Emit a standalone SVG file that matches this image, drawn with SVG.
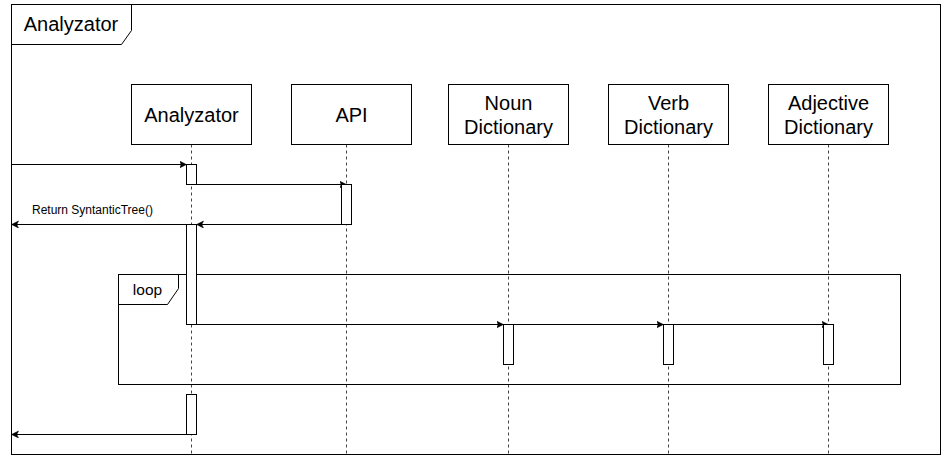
<svg xmlns="http://www.w3.org/2000/svg" width="946" height="460" viewBox="0 0 946 460">
  <style>
    .frame { fill: none; stroke: #000; stroke-width: 1; }
    .box { fill: #fff; stroke: #000; stroke-width: 1; }
    .life { stroke: #444; stroke-width: 1; stroke-dasharray: 3 3; fill: none; }
    .act { fill: #fff; stroke: #000; stroke-width: 1; }
    .msg { stroke: #000; stroke-width: 1; fill: none; marker-end: url(#arr); }
    .t20 { font-family: "Liberation Sans", Arial, sans-serif; font-size: 20px; fill: #000; text-anchor: middle; }
    .t16 { font-family: "Liberation Sans", Arial, sans-serif; font-size: 15.5px; fill: #000; text-anchor: middle; }
    .t12 { font-family: "Liberation Sans", Arial, sans-serif; font-size: 12px; fill: #000; }
  </style>
  <defs>
    <marker id="arr" markerUnits="userSpaceOnUse" markerWidth="8" markerHeight="8" refX="7" refY="3.5" orient="auto">
      <path d="M0,0 L7,3.5 L0,7 L1.75,3.5 z" fill="#000" stroke="#000" stroke-width="0.5"/>
    </marker>
  </defs>
  <rect width="946" height="460" fill="#fff"/>

  <g id="frame-analyzator">
    <rect class="frame" x="11.5" y="4.5" width="929" height="450"/>
    <path class="frame" d="M11.5,44.5 H121.5 L131.5,30.5 V4.5"/>
    <text class="t20" x="71" y="31">Analyzator</text>
  </g>

  <g id="lifeline-analyzator">
    <line class="life" x1="191.5" y1="144.5" x2="191.5" y2="454"/>
    <rect class="box" x="131.5" y="84.5" width="120" height="60"/>
    <text class="t20" x="191.5" y="121.5">Analyzator</text>
  </g>
  <g id="lifeline-api">
    <line class="life" x1="346.5" y1="144.5" x2="346.5" y2="454"/>
    <rect class="box" x="291.5" y="84.5" width="120" height="60"/>
    <text class="t20" x="351.5" y="122">API</text>
  </g>
  <g id="lifeline-noun">
    <line class="life" x1="508.5" y1="144.5" x2="508.5" y2="454"/>
    <rect class="box" x="448.5" y="84.5" width="120" height="60"/>
    <text class="t20" x="508.5" y="110">Noun</text>
    <text class="t20" x="508.5" y="134">Dictionary</text>
  </g>
  <g id="lifeline-verb">
    <line class="life" x1="668.5" y1="144.5" x2="668.5" y2="454"/>
    <rect class="box" x="608.5" y="84.5" width="120" height="60"/>
    <text class="t20" x="668.5" y="110">Verb</text>
    <text class="t20" x="668.5" y="134">Dictionary</text>
  </g>
  <g id="lifeline-adjective">
    <line class="life" x1="828.5" y1="144.5" x2="828.5" y2="454"/>
    <rect class="box" x="768.5" y="84.5" width="120" height="60"/>
    <text class="t20" x="828.5" y="110">Adjective</text>
    <text class="t20" x="828.5" y="134">Dictionary</text>
  </g>

  <g id="loop-fragment">
    <rect class="frame" x="118.5" y="274.5" width="782" height="110"/>
    <path class="frame" d="M118.5,304.5 H167.5 L178.5,288.5 V274.5"/>
    <text class="t16" x="147.5" y="294.5">loop</text>
  </g>

  <g id="connectors">
    <line class="msg" x1="11.5" y1="164.5" x2="186.5" y2="164.5"/>
    <line class="msg" x1="196.5" y1="184.5" x2="346.5" y2="184.5"/>
    <line class="msg" x1="341.5" y1="224.5" x2="196.5" y2="224.5"/>
    <line class="msg" x1="186.5" y1="224.5" x2="11.5" y2="224.5"/>
    <text class="t12" x="32" y="213.5">Return SyntanticTree()</text>
    <line class="msg" x1="196.5" y1="324.5" x2="503.5" y2="324.5"/>
    <line class="msg" x1="513.5" y1="324.5" x2="663.5" y2="324.5"/>
    <line class="msg" x1="673.5" y1="324.5" x2="828.5" y2="324.5"/>
    <line class="msg" x1="186.5" y1="434.5" x2="11.5" y2="434.5"/>
  </g>

  <g id="activations">
    <rect class="act" x="186.5" y="164.5" width="10" height="20"/>
    <rect class="act" x="186.5" y="224.5" width="10" height="100"/>
    <rect class="act" x="186.5" y="394.5" width="10" height="40"/>
    <rect class="act" x="341.5" y="184.5" width="10" height="40"/>
    <rect class="act" x="503.5" y="324.5" width="10" height="40"/>
    <rect class="act" x="663.5" y="324.5" width="10" height="40"/>
    <rect class="act" x="823.5" y="324.5" width="10" height="40"/>
  </g>
</svg>
